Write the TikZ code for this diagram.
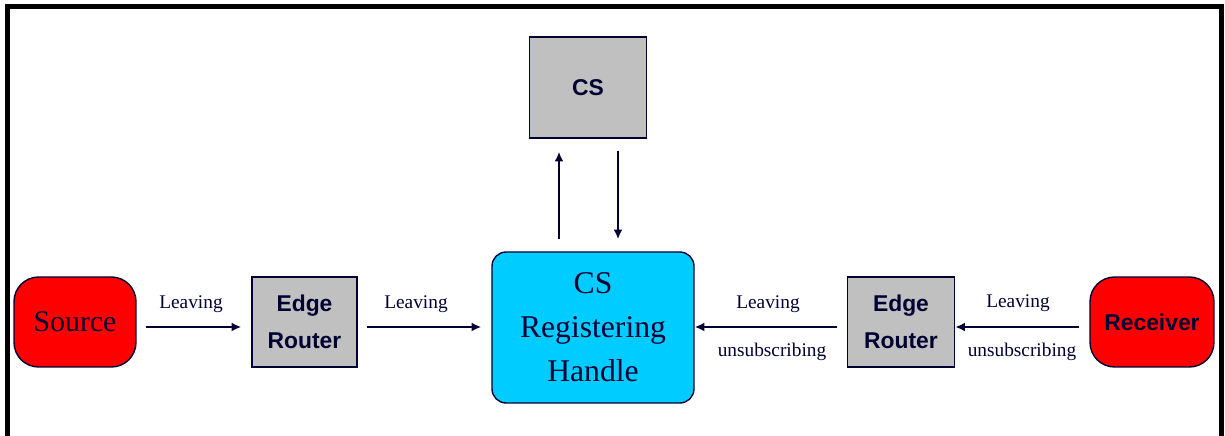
\documentclass[tikz,border=0pt]{standalone}
\usepackage{fontspec}
\setmainfont{Liberation Serif}
\setsansfont{Liberation Sans}
\usepackage{xcolor}
\usetikzlibrary{arrows.meta}

\definecolor{navy}{HTML}{000033}
\definecolor{boxgray}{HTML}{C0C0C0}
\definecolor{cscyan}{HTML}{00CCFF}

\begin{document}
\begin{tikzpicture}[>={Latex[length=5.5pt,width=5pt]}, thick, inner sep=0pt, x=0.02cm, y=0.02cm,
	endbox/.style={draw=navy, fill=red, rounded corners=14pt, minimum height=1.8cm, text=navy},
	router/.style={draw=navy, fill=boxgray, minimum width=2.1cm, minimum height=1.8cm, text=navy, align=center, font=\sffamily\bfseries\fontsize{13}{21}\selectfont},
	lbl/.style={text=navy, font=\fontsize{11}{13}\selectfont},
	pfeil/.style={->, draw=navy, line width=1.1pt}]

	\useasboundingbox (0,0) rectangle (1225,-436);

	% Rahmen
	\draw[black, line width=2.8pt] (7.5,-436) -- (7.5,-6.5) -- (1221.5,-6.5) -- (1221.5,-436);

	\node[endbox, minimum width=2.44cm, font=\fontsize{17}{20}\selectfont](source) at (75,-322) {Source};
	\node[router](router1) at (304.5,-322) {Edge\\Router};
	\node[draw=navy, fill=cscyan, rounded corners=8pt, minimum width=4.04cm, minimum height=3.02cm, text=navy, align=center, font=\fontsize{18}{25}\selectfont](csrh) at (593,-327.5) {CS\\Registering\\Handle};
	\node[router, minimum width=2.34cm, minimum height=2.02cm](cs) at (588,-87.5) {CS};
	\node[router, minimum width=2.14cm](router2) at (901,-322) {Edge\\Router};
	\node[endbox, minimum width=2.48cm, font=\sffamily\bfseries\fontsize{13}{16}\selectfont](receiver) at (1152,-322) {Receiver};

	\node[lbl](l1) at (191,-304) {Leaving};
	\node[lbl](l2) at (416,-304) {Leaving};
	\node[lbl](l3) at (768,-304) {Leaving};
	\node[lbl](u3) at (772,-352) {unsubscribing};
	\node[lbl](l4) at (1018,-303) {Leaving};
	\node[lbl](u4) at (1022,-352) {unsubscribing};

	% horizontale Pfeile
	\draw[pfeil, shorten <=0.18cm, shorten >=0.2cm] ([yshift=-0.1cm]source.east) -- ([yshift=-0.1cm]router1.west);
	\draw[pfeil, shorten <=0.18cm, shorten >=0.2cm] ([yshift=-0.1cm]router1.east) -- ([yshift=-0.1cm]router1.east -| csrh.west);
	\draw[pfeil, shorten <=0.2cm] ([yshift=-0.1cm]router2.west) -- ([yshift=-0.1cm]router2.west -| csrh.east);
	\draw[pfeil, shorten <=0.2cm] ([yshift=-0.1cm]receiver.west) -- ([yshift=-0.1cm]router2.east);

	% vertikale Pfeile
	\draw[pfeil, shorten <=0.24cm, shorten >=0.26cm] ([xshift=-0.68cm]csrh.north) -- ([xshift=-0.68cm]csrh.north |- cs.south);
	\draw[pfeil, shorten <=0.24cm, shorten >=0.24cm] ([xshift=0.6cm]cs.south) -- ([xshift=0.6cm]cs.south |- csrh.north);
\end{tikzpicture}
\end{document}
